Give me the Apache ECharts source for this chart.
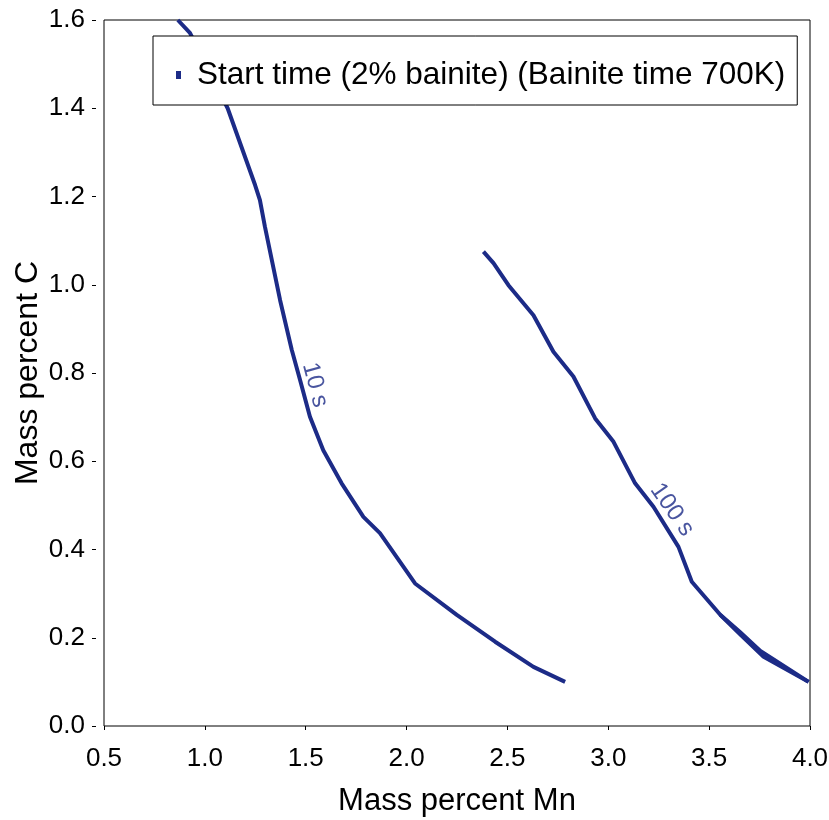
<!DOCTYPE html>
<html>
<head>
<meta charset="utf-8">
<script src="https://cdn.jsdelivr.net/npm/echarts@6/dist/echarts.min.js"></script>
<style>html,body{margin:0;padding:0;background:#fff}#c{width:829px;height:820px}</style>
</head>
<body>
<div id="c"></div>
<script>
const seriesName = 'Start time (2% bainite) (Bainite time 700K)';
const xTicks = [0.5, 1.0, 1.5, 2.0, 2.5, 3.0, 3.5, 4.0];
const yTicks = [0.0, 0.2, 0.4, 0.6, 0.8, 1.0, 1.2, 1.4, 1.6];
const curve10Mn = [0.866, 0.926, 1.113, 1.249, 1.273, 1.298, 1.373, 1.431, 1.472, 1.521, 1.587, 1.678, 1.786, 1.868, 1.926, 2.042, 2.249, 2.439, 2.629, 2.786];
const curve10C  = [1.600, 1.571, 1.400, 1.226, 1.192, 1.131, 0.965, 0.852, 0.784, 0.701, 0.625, 0.550, 0.474, 0.437, 0.399, 0.323, 0.252, 0.191, 0.134, 0.100];
const curve100Mn = [2.381, 2.431, 2.505, 2.629, 2.728, 2.827, 2.935, 3.026, 3.133, 3.224, 3.348, 3.414, 3.555, 3.650, 3.754, 3.993];
const curve100C  = [1.075, 1.049, 0.999, 0.931, 0.848, 0.792, 0.697, 0.644, 0.550, 0.497, 0.406, 0.327, 0.252, 0.214, 0.170, 0.100];
const curve100bMn = [3.555, 3.660, 3.770, 3.993];
const curve100bC  = [0.252, 0.205, 0.157, 0.100];
const labelTexts = ['10 s', '100 s'];
const labelMn = [1.546, 3.316];
const labelC = [0.773, 0.490];
const labelRot = [-75, -55];

const zip = (a, b) => a.map((v, i) => [v, b[i]]);
const color = '#1c2b87';
const font = 'Liberation Sans, Arial, Helvetica, sans-serif';
const lineSeries = (d) => ({
  type: 'line', name: seriesName, data: d, showSymbol: false, symbol: 'none',
  lineStyle: { color: color, width: 4 }, itemStyle: { color: color },
  animation: false, z: 2
});

const chart = echarts.init(document.getElementById('c'));
chart.setOption({
  animation: false,
  grid: { left: 104, top: 20, width: 706, height: 706, containLabel: false, outerBoundsMode: 'none', show: true, borderColor: '#000', borderWidth: 1, backgroundColor: 'transparent' },
  legend: {
    data: [{ name: seriesName, icon: 'rect' }],
    left: 153, top: 36,
    itemWidth: 5, itemHeight: 8,
    padding: [23, 12, 14, 23],
    backgroundColor: '#fff', borderColor: '#000', borderWidth: 1, borderRadius: 0,
    textStyle: { fontSize: 31.5, color: '#000', fontFamily: font, padding: [0, 0, 0, 11] },
    z: 10
  },
  xAxis: {
    type: 'value', min: xTicks[0], max: xTicks[xTicks.length - 1], interval: 0.5,
    offset: 7,
    axisLine: { show: false },
    axisTick: { show: true, length: 4, lineStyle: { color: '#000', width: 1 } },
    axisLabel: { fontSize: 26, color: '#000', fontFamily: font, margin: 13, formatter: v => v.toFixed(1) },
    splitLine: { show: false },
    name: 'Mass percent Mn', nameLocation: 'middle', nameGap: 53, nameMoveOverlap: false,
    nameTextStyle: { fontSize: 31, color: '#000', fontFamily: font }
  },
  yAxis: {
    type: 'value', min: yTicks[0], max: yTicks[yTicks.length - 1], interval: 0.2,
    offset: 8,
    axisLine: { show: false },
    axisTick: { show: true, length: 4, lineStyle: { color: '#000', width: 1 } },
    axisLabel: { fontSize: 26, color: '#000', fontFamily: font, margin: 11, formatter: v => v.toFixed(1) },
    splitLine: { show: false },
    name: 'Mass percent C', nameLocation: 'middle', nameGap: 52, nameMoveOverlap: false,
    nameTextStyle: { fontSize: 32, color: '#000', fontFamily: font }
  },
  series: [
    lineSeries(zip(curve10Mn, curve10C)),
    lineSeries(zip(curve100Mn, curve100C)),
    lineSeries(zip(curve100bMn, curve100bC)),
    {
      type: 'scatter', symbolSize: 0, silent: true, z: 3,
      data: labelTexts.map((t, i) => ({
        value: [labelMn[i], labelC[i]],
        label: { show: true, formatter: t, rotate: labelRot[i], position: 'inside', color: color, fontSize: 24, fontFamily: font }
      }))
    }
  ]
});
</script>
</body>
</html>
